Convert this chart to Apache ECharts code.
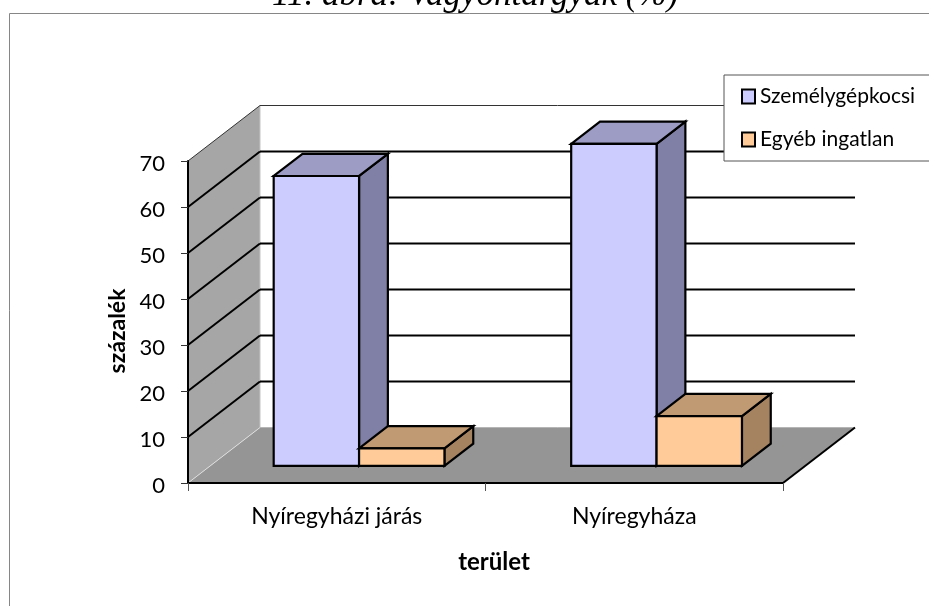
<!DOCTYPE html>
<html><head><meta charset="utf-8">
<style>html,body{margin:0;padding:0;background:#fff}#c{width:929px;height:606px}</style>
<script src="https://cdn.jsdelivr.net/npm/echarts@6/dist/echarts.min.js"></script>
</head><body><div id="c"></div>
<script>
const titleText = '11. ábra: Vagyontárgyak (%)';
const categories = ['Nyíregyházi járás', 'Nyíregyháza'];
const carValues = [63, 70];
const propertyValues = [3.8, 10.8];
const yTicks = [10, 20, 30, 40, 50, 60];
const seriesNames = ['Személygépkocsi', 'Egyéb ingatlan'];

const FONT = 'Lato';
const DX = 72, DY = -55.5;         // wall depth projection
const Z0 = 0.31, Z1 = 0.71;        // bar depth, fraction of floor depth
const BAR = 0.287;                 // bar width, fraction of a category band
const EDGE = { stroke: '#000', lineWidth: 2.2, lineJoin: 'miter' };

const poly = (points, fill, extra) => ({
  type: 'polygon', shape: { points }, silent: true,
  style: Object.assign({ fill }, extra || EDGE)
});
const seg = (a, b, stroke, lineWidth) => ({
  type: 'line', shape: { x1: a[0], y1: a[1], x2: b[0], y2: b[1] }, silent: true,
  style: { stroke, lineWidth }
});

function renderBar(offset, colors) {
  return function (params, api) {
    const cat = api.value(0), v = api.value(1);
    const base = api.coord([cat, 0]), top = api.coord([cat, v]);
    const w = api.size([1, 0])[0] * BAR;
    const x0 = base[0] + offset * w + DX * Z0, x1 = x0 + w;
    const yb = base[1] + DY * Z0, yt = top[1] + DY * Z0;
    const dx = DX * (Z1 - Z0), dy = DY * (Z1 - Z0);
    return {
      type: 'group',
      children: [
        poly([[x1, yb], [x1 + dx, yb + dy], [x1 + dx, yt + dy], [x1, yt]], colors[2]),
        poly([[x0, yt], [x1, yt], [x1 + dx, yt + dy], [x0 + dx, yt + dy]], colors[1]),
        poly([[x0, yb], [x1, yb], [x1, yt], [x0, yt]], colors[0])
      ]
    };
  };
}

// left and right ends of the category axis at value v
function span(api, v) {
  const band = api.size([1, 0])[0];
  const a = api.coord([0, v]), z = api.coord([categories.length - 1, v]);
  return [[a[0] - band / 2, a[1]], [z[0] + band / 2, z[1]]];
}

function renderWalls(params, api) {
  const [bl, br] = span(api, 0);
  const [tl, tr] = span(api, 70);
  const b = (p) => [p[0] + DX, p[1] + DY];
  return {
    type: 'group',
    children: [
      poly([bl, b(bl), b(br), br], '#959595', { stroke: 'none' }),
      poly([bl, b(bl), b(tl), tl], '#a6a6a6', { stroke: 'none' }),
      seg(bl, b(bl), '#dddddd', 1),
      seg(b(bl), b(tl), '#c4c4c4', 1),
      seg(b(bl), b(br), '#b5b5b5', 1),
      seg(br, b(br), '#000', 2),
      seg(tl, b(tl), '#333', 1),
      seg(b(tl), b(tr), '#333', 1)
    ]
  };
}

function renderGrid(params, api) {
  const [l, r] = span(api, api.value(1));
  const bl = [l[0] + DX, l[1] + DY], br = [r[0] + DX, r[1] + DY];
  return {
    type: 'group',
    children: [seg(l, bl, '#000', 2), seg(bl, br, '#000', 2)]
  };
}

const chart = echarts.init(document.getElementById('c'), null, { renderer: 'canvas' });
chart.setOption({
  animation: false,
  backgroundColor: '#fff',
  textStyle: { fontFamily: FONT },
  title: {
    text: titleText, left: 267, top: -27,
    textStyle: { fontFamily: 'Liberation Serif', fontStyle: 'italic', fontWeight: 'normal', fontSize: 35, color: '#000' }
  },
  graphic: [{
    type: 'rect', z: -1, silent: true,
    shape: { x: 9.5, y: 13.5, width: 1000, height: 1000 },
    style: { fill: 'none', stroke: '#868686', lineWidth: 1 }
  }],
  legend: {
    left: 724, top: 75, orient: 'vertical',
    backgroundColor: '#fff', borderColor: '#555', borderWidth: 1, borderRadius: 0,
    padding: [11, 60, 11, 17], itemGap: 22, itemWidth: 13, itemHeight: 14,
    icon: 'rect', selectedMode: false,
    textStyle: { fontFamily: FONT, fontSize: 21, color: '#000' },
    data: [
      { name: seriesNames[0], itemStyle: { color: '#ccccff', borderColor: '#000', borderWidth: 2 } },
      { name: seriesNames[1], itemStyle: { color: '#ffcc99', borderColor: '#000', borderWidth: 2 } }
    ]
  },
  grid: { left: 188, right: 146, top: 161, bottom: 123 },
  xAxis: {
    type: 'category', data: categories, z: 10,
    name: 'terület', nameLocation: 'middle', nameGap: 67,
    nameTextStyle: { fontFamily: FONT, fontWeight: 'bold', fontSize: 24, color: '#000', padding: [0, 0, 0, 17] },
    axisLine: { lineStyle: { color: '#000', width: 2 } },
    axisTick: { show: true, alignWithLabel: false, length: 8, lineStyle: { color: '#555', width: 1 } },
    axisLabel: { fontFamily: FONT, fontSize: 23, color: '#000', margin: 22, interval: 0 },
    splitLine: { show: false }
  },
  yAxis: {
    type: 'value', min: 0, max: 70, interval: 10, z: 10,
    name: 'százalék', nameLocation: 'middle', nameRotate: 90, nameGap: 58,
    nameTextStyle: { fontFamily: FONT, fontWeight: 'bold', fontSize: 23, color: '#000', padding: [0, 18, 0, 0] },
    axisLine: { show: true, lineStyle: { color: '#000', width: 2 } },
    axisTick: { show: true, length: 7, lineStyle: { color: '#333', width: 1 } },
    axisLabel: { fontFamily: FONT, fontSize: 22, color: '#000', margin: 23, verticalAlign: 'top', lineHeight: 6 },
    splitLine: { show: false }
  },
  series: [
    {
      type: 'custom', name: 'walls', z: 1, silent: true, clip: false,
      coordinateSystem: 'cartesian2d',
      renderItem: renderWalls, data: [[0, 0]], encode: { x: 0, y: 1 }
    },
    {
      type: 'custom', name: 'gridlines', z: 2, silent: true, clip: false,
      coordinateSystem: 'cartesian2d',
      renderItem: renderGrid, data: yTicks.map(v => [0, v]), encode: { x: 0, y: 1 }
    },
    {
      type: 'custom', name: seriesNames[0], z: 3, clip: false,
      coordinateSystem: 'cartesian2d',
      itemStyle: { color: '#ccccff' },
      renderItem: renderBar(-1, ['#ccccff', '#9c9cc4', '#8080a6']),
      data: carValues.map((v, i) => [i, v]), encode: { x: 0, y: 1 }
    },
    {
      type: 'custom', name: seriesNames[1], z: 4, clip: false,
      coordinateSystem: 'cartesian2d',
      itemStyle: { color: '#ffcc99' },
      renderItem: renderBar(0, ['#ffcc99', '#c09a72', '#a58260']),
      data: propertyValues.map((v, i) => [i, v]), encode: { x: 0, y: 1 }
    }
  ]
});
</script></body></html>
